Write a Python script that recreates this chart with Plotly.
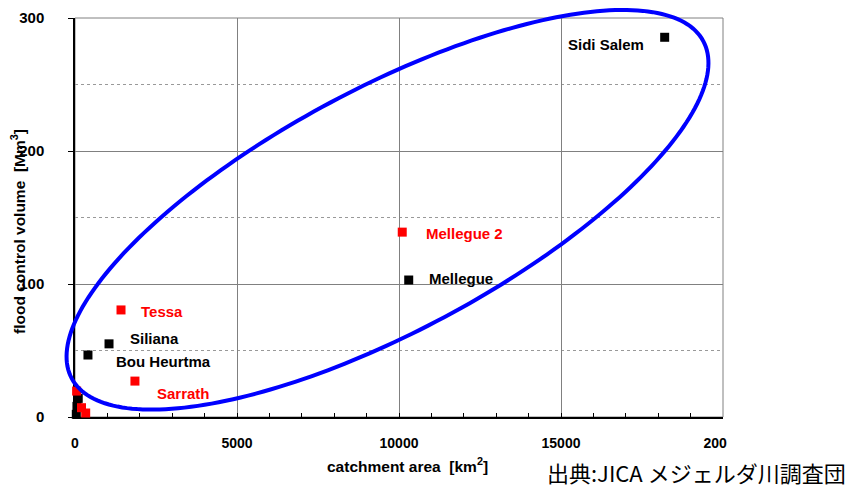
import numpy as np
import plotly.graph_objects as go

# ---------------- data ----------------
existing_names = ["Sidi Salem", "Mellegue", "Siliana", "Bou Heurtma", "", "", ""]
existing_area = [18200, 10300, 1050, 400, 100, 60, 40]          # km2
existing_volume = [285.5, 103, 55, 46.6, 14, 8, 2]               # Mm3

planned_names = ["Mellegue 2", "Tessa", "Sarrath", "", "", ""]
planned_area = [10100, 1420, 1850, 50, 200, 330]
planned_volume = [139, 80.5, 27, 19.5, 7, 3]

x_ticks = [0, 5000, 10000, 15000, 20000]
y_ticks = [0, 100, 200, 300]

x_title = "catchment area  [km<sup>2</sup>]"
y_title = "flood control volume  [Mm<sup>3</sup>]"
source_text = "出典:JICA メジェルダ川調査団"

# ---------------- layout geometry / styles ----------------
W, H = 859, 488
ML, MR, MT, MB = 75, 136, 18, 71
PW, PH = W - ML - MR, H - MT - MB
XR, YR = (0, 20000), (0, 300)
FONT = "Liberation Sans, Arial, sans-serif"


def pxx(x):  # page pixel -> paper x
    return (x - ML) / PW


def pxy(y):  # page pixel -> paper y
    return (MT + PH - y) / PH


# label offsets (px): xanchor, xshift, yshift
label_style = {
    "Sidi Salem": ("right", -19, -7),
    "Mellegue": ("left", 18, 2),
    "Siliana": ("left", 19, 5),
    "Bou Heurtma": ("left", 26, -6),
    "Mellegue 2": ("left", 22, -1),
    "Tessa": ("left", 18, -2),
    "Sarrath": ("left", 20, -12),
}

# ellipse annotation: centre in data units, semi-axes in px, tilt in degrees
ell_center = (9645, 155.8)
ell_a, ell_b, ell_deg = 358, 121.5, 28.1

fig = go.Figure()

fig.add_trace(go.Scatter(
    x=existing_area, y=existing_volume, mode="markers",
    marker=dict(symbol="square", size=9, color="#000000", line=dict(width=0)),
    cliponaxis=False, showlegend=False, name="existing"))
fig.add_trace(go.Scatter(
    x=planned_area, y=planned_volume, mode="markers",
    marker=dict(symbol="square", size=9, color="#FF0000", line=dict(width=0)),
    cliponaxis=False, showlegend=False, name="planned"))

annotations = []
for names, xs, ys, col in [(existing_names, existing_area, existing_volume, "#000000"),
                           (planned_names, planned_area, planned_volume, "#FF0000")]:
    for n, xv, yv in zip(names, xs, ys):
        if not n:
            continue
        anc, dx, dy = label_style[n]
        annotations.append(dict(
            x=xv, y=yv, xref="x", yref="y", text=n, showarrow=False,
            xanchor=anc, yanchor="middle", xshift=dx, yshift=dy,
            font=dict(family=FONT, size=15, color=col, weight="bold")))

# axis titles
annotations.append(dict(
    x=pxx(407), y=pxy(465), xref="paper", yref="paper", text=x_title,
    showarrow=False, xanchor="center", yanchor="middle",
    font=dict(family=FONT, size=15.5, color="#000000", weight="bold")))
annotations.append(dict(
    x=pxx(18), y=pxy(232), xref="paper", yref="paper", text=y_title,
    showarrow=False, xanchor="center", yanchor="middle", textangle=-90,
    font=dict(family=FONT, size=15.5, color="#000000", weight="bold")))

annotations.append(dict(
    x=pxx(545), y=pxy(472), xref="paper", yref="paper",
    text=source_text, showarrow=False,
    xanchor="left", yanchor="middle",
    font=dict(family="Noto Sans CJK JP", size=22, color="#000000")))

# ellipse path in paper coordinates (not clipped to plot area)
cx_p = (ell_center[0] - XR[0]) / (XR[1] - XR[0])
cy_p = (ell_center[1] - YR[0]) / (YR[1] - YR[0])
t = np.linspace(0, 2 * np.pi, 241)
th = np.deg2rad(ell_deg)
dx_px = ell_a * np.cos(t) * np.cos(th) - ell_b * np.sin(t) * np.sin(th)
dy_px = ell_a * np.cos(t) * np.sin(th) + ell_b * np.sin(t) * np.cos(th)
px = cx_p + dx_px / PW
py = cy_p + dy_px / PH
path = "M " + " L ".join(f"{a:.5f},{b:.5f}" for a, b in zip(px, py)) + " Z"

shapes = [
    # grey frame (top / right)
    dict(type="rect", xref="paper", yref="paper", x0=0, y0=0, x1=1, y1=1,
         line=dict(color="#808080", width=1), layer="below"),
    dict(type="path", xref="paper", yref="paper", path=path,
         line=dict(color="#0000FF", width=4), layer="above"),
    # the source image is cropped just after "200"
    dict(type="rect", xref="paper", yref="paper",
         x0=pxx(727), x1=pxx(W) + 0.1, y0=pxy(428), y1=pxy(456),
         fillcolor="white", line=dict(width=0), layer="above"),
]

fig.update_layout(
    width=W, height=H, margin=dict(l=ML, r=MR, t=MT, b=MB, pad=0, autoexpand=False),
    paper_bgcolor="white", plot_bgcolor="white",
    annotations=annotations, shapes=shapes, showlegend=False,
    font=dict(family=FONT, color="#000000"),
)

fig.update_xaxes(
    range=list(XR), tickvals=x_ticks, ticktext=[str(v) for v in x_ticks],
    showline=True, linecolor="#000000", linewidth=1.5, mirror=False,
    showgrid=True, gridcolor="#808080", gridwidth=1, zeroline=False,
    ticks="inside", ticklen=4, tickcolor="#000000",
    minor=dict(dtick=1000, tick0=0, ticks="inside", ticklen=4, tickcolor="#000000", showgrid=False),
    tickfont=dict(family=FONT, size=14, color="#000000", weight="bold"),
    ticklabelstandoff=12, automargin=False,
    layer="below traces",
)
fig.update_yaxes(
    range=list(YR), tickvals=y_ticks, ticktext=[str(v) for v in y_ticks],
    showline=True, linecolor="#000000", linewidth=1.5, mirror=False,
    showgrid=True, gridcolor="#808080", gridwidth=1, zeroline=False,
    ticks="outside", ticklen=5, tickcolor="#000000",
    minor=dict(dtick=50, tick0=0, showgrid=True, gridcolor="#999999", griddash="dot", gridwidth=1, ticks=""),
    tickfont=dict(family=FONT, size=15, color="#000000", weight="bold"),
    ticklabelstandoff=21, automargin=False,
    layer="below traces",
)

fig.write_html("out.html")
